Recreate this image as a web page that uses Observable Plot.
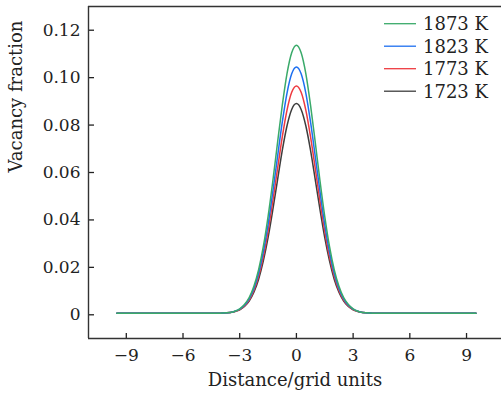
<!DOCTYPE html>
<html><head><meta charset="utf-8">
<script src="https://cdn.jsdelivr.net/npm/d3@7"></script>
<script src="https://cdn.jsdelivr.net/npm/@observablehq/plot@0.6"></script>
<style>html,body{margin:0;padding:0;background:#fff;overflow:hidden}</style>
</head><body><div id="chart"></div>
<script>
const distance = [-9.5,-8,-6,-4.5,-4,-3.5,-3.25,-3,-2.75,-2.5,-2.25,-2,-1.75,-1.5,-1.25,-1,-0.75,-0.5,-0.25,0,0.25,0.5,0.75,1,1.25,1.5,1.75,2,2.25,2.5,2.75,3,3.25,3.5,4,4.5,6,8,9.5];
const temperatures = ["1873 K","1823 K","1773 K","1723 K"];
const frac1873 = [0.0006,0.0006,0.0006,0.0006,0.0007,0.0010,0.0015,0.0025,0.0043,0.0072,0.0120,0.0190,0.0288,0.0414,0.0563,0.0725,0.0882,0.1016,0.1105,0.1137,0.1105,0.1016,0.0882,0.0725,0.0563,0.0414,0.0288,0.0190,0.0120,0.0072,0.0043,0.0025,0.0015,0.0010,0.0007,0.0006,0.0006,0.0006,0.0006];
const frac1823 = [0.0006,0.0006,0.0006,0.0006,0.0007,0.0010,0.0015,0.0024,0.0040,0.0067,0.0111,0.0175,0.0265,0.0380,0.0518,0.0666,0.0811,0.0934,0.1016,0.1045,0.1016,0.0934,0.0811,0.0666,0.0518,0.0380,0.0265,0.0175,0.0111,0.0067,0.0040,0.0024,0.0015,0.0010,0.0007,0.0006,0.0006,0.0006,0.0006];
const frac1773 = [0.0006,0.0006,0.0006,0.0006,0.0007,0.0010,0.0014,0.0022,0.0037,0.0062,0.0103,0.0162,0.0245,0.0352,0.0478,0.0615,0.0749,0.0862,0.0938,0.0965,0.0938,0.0862,0.0749,0.0615,0.0478,0.0352,0.0245,0.0162,0.0103,0.0062,0.0037,0.0022,0.0014,0.0010,0.0007,0.0006,0.0006,0.0006,0.0006];
const frac1723 = [0.0006,0.0006,0.0006,0.0006,0.0007,0.0010,0.0014,0.0021,0.0035,0.0058,0.0095,0.0150,0.0227,0.0325,0.0442,0.0568,0.0692,0.0796,0.0866,0.0891,0.0866,0.0796,0.0692,0.0568,0.0442,0.0325,0.0227,0.0150,0.0095,0.0058,0.0035,0.0021,0.0014,0.0010,0.0007,0.0006,0.0006,0.0006,0.0006];
const colors = ["#3aaa6a","#1d6ff0","#ee3a40","#3d3d3d"];
const xTicks = [-9,-6,-3,0,3,6,9];
const xTickLabels = ["\u22129","\u22126","\u22123","0","3","6","9"];
const yTicks = [0,0.02,0.04,0.06,0.08,0.10,0.12];
const yTickLabels = ["0","0.02","0.04","0.06","0.08","0.10","0.12"];
const xLabel = "Distance/grid units";
const yLabel = "Vacancy fraction";

const series = [frac1873, frac1823, frac1773, frac1723];
const rows = [];
for (let s = series.length - 1; s >= 0; s--) {
  distance.forEach((d, i) => rows.push({x: d, y: series[s][i], T: temperatures[s]}));
}

const font = "DejaVu Serif";
const ink = "#222";
const plot = Plot.plot({
  width: 501, height: 398,
  marginLeft: 88, marginRight: 0, marginTop: 6, marginBottom: 60,
  style: {fontFamily: font, fontSize: "17px", color: ink, background: "#fff"},
  x: {domain: [-11, 10.85]},
  y: {domain: [-0.01, 0.13]},
  color: {domain: temperatures, range: colors},
  marks: [
    Plot.line(rows, {x: "x", y: "y", z: "T", stroke: "T", strokeWidth: 1.5, curve: "monotone-x"}),
    Plot.axisX({ticks: xTicks, tickFormat: d => xTickLabels[xTicks.indexOf(d)], tickSize: 0, tickPadding: 10, label: null, fontSize: 17}),
    Plot.axisX({ticks: xTicks, tickFormat: () => "", tickSize: 5, dy: -5, label: null, strokeWidth: 1.3}),
    Plot.axisY({ticks: yTicks, tickFormat: d => yTickLabels[yTicks.indexOf(d)], tickSize: 0, tickPadding: 8, label: null, fontSize: 17}),
    Plot.axisY({ticks: yTicks, tickFormat: () => "", tickSize: 6, dx: 6, label: null, strokeWidth: 1.3}),
    Plot.ruleY([-0.01], {stroke: "#333", strokeWidth: 1.4}),
    Plot.ruleY([0.13], {stroke: "#333", strokeWidth: 1.4}),
    Plot.ruleX([-11], {stroke: "#333", strokeWidth: 1.4}),
    Plot.text([xLabel], {text: d => d, frameAnchor: "bottom", dy: 47, fontSize: 18, fill: ink}),
    Plot.text([yLabel], {text: d => d, frameAnchor: "left", dx: -72, rotate: -90, fontSize: 18, fill: ink})
  ]
});
document.getElementById("chart").appendChild(plot);

// in-plot legend
const svg = d3.select(plot);
const lg = svg.append("g").attr("font-family", font).attr("font-size", 18)
  .attr("fill", ink).attr("text-anchor", "start");
temperatures.forEach((t, i) => {
  const yy = 23.7 + 22.5 * i;
  lg.append("line").attr("x1", 384).attr("x2", 416).attr("y1", yy).attr("y2", yy)
    .attr("stroke", colors[i]).attr("stroke-width", 1.3);
  lg.append("text").attr("x", 423).attr("y", yy + 6.5).attr("text-anchor", "start").text(t);
});
</script>
</body></html>
